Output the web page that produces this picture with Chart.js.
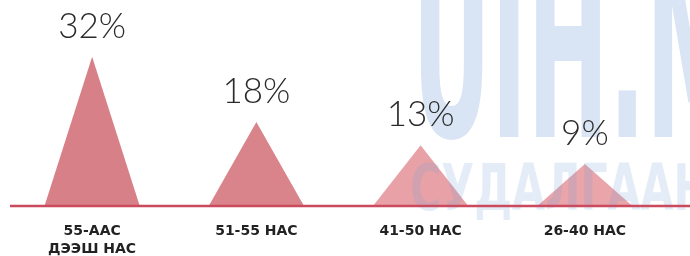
<!DOCTYPE html>
<html>
<head>
<meta charset="utf-8">
<script src="https://cdn.jsdelivr.net/npm/chart.js@4/dist/chart.umd.min.js"></script>
<style>
  html, body { margin: 0; padding: 0; background: #fff; }
  #wrap { width: 690px; height: 256px; position: relative; }
</style>
</head>
<body>
<div id="wrap"><canvas id="ageChart"></canvas></div>
<script>
// age groups and their shares (%)
const ageGroups = [['55-ААС', 'ДЭЭШ НАС'], '51-55 НАС', '41-50 НАС', '26-40 НАС'];
const shares = [32, 18, 13, 9];
const peakColors = ['#d88087', '#d9848a', '#e8a2a7', '#e9a5aa'];

// draw each bar as a triangle peak, then the watermark, baseline and % labels
const peaks = {
  id: 'peaks',
  beforeDatasetsDraw(chart) {
    const ctx = chart.ctx;
    chart.getDatasetMeta(0).data.forEach(bar => {
      const half = bar.width / 2;
      ctx.beginPath();
      ctx.moveTo(bar.x - half, bar.base);
      ctx.lineTo(bar.x, bar.y);
      ctx.lineTo(bar.x + half, bar.base);
      ctx.closePath();
      ctx.fillStyle = bar.options.backgroundColor;
      ctx.fill();
    });
    return false;
  },
  afterDraw(chart) {
    const ctx = chart.ctx;
    const y0 = chart.scales.y.getPixelForValue(0);

    // watermark
    ctx.save();
    ctx.textBaseline = 'alphabetic';
    ctx.textAlign = 'left';
    ctx.save();
    ctx.fillStyle = 'rgba(120,160,215,0.28)';
    ctx.translate(412, 137);
    ctx.scale(0.44, 1);
    ctx.font = 'bold 246px "DejaVu Sans Condensed", "DejaVu Sans"';
    ctx.fillText('UIH.MN', 0, 0);
    ctx.restore();
    ctx.save();
    ctx.fillStyle = 'rgba(120,160,215,0.2)';
    ctx.translate(410, y0 + 4);
    ctx.scale(0.74, 1);
    ctx.font = 'bold 64px "DejaVu Sans Condensed", "DejaVu Sans"';
    ctx.fillText('СУДАЛГААНЫ', 0, 0);
    ctx.restore();
    ctx.restore();

    // baseline
    ctx.save();
    ctx.strokeStyle = '#cc4a5e';
    ctx.lineWidth = 2.5;
    ctx.beginPath();
    ctx.moveTo(chart.chartArea.left, y0);
    ctx.lineTo(chart.width, y0);
    ctx.stroke();
    ctx.restore();

    // value labels
    ctx.save();
    ctx.fillStyle = '#2b2b2b';
    ctx.font = '300 35px Lato, "Open Sans", sans-serif';
    ctx.textAlign = 'center';
    ctx.textBaseline = 'alphabetic';
    chart.getDatasetMeta(0).data.forEach((bar, i) => {
      ctx.fillText(shares[i] + '%', bar.x, bar.y - 19);
    });
    ctx.restore();
  }
};

new Chart(document.getElementById('ageChart'), {
  type: 'bar',
  data: {
    labels: ageGroups,
    datasets: [{
      data: shares,
      backgroundColor: peakColors,
      categoryPercentage: 1,
      barPercentage: 0.58
    }]
  },
  options: {
    responsive: true,
    maintainAspectRatio: false,
    animation: false,
    layout: { padding: { left: 10, right: 23, top: 10, bottom: 0 } },
    plugins: {
      legend: { display: false },
      tooltip: { enabled: false }
    },
    scales: {
      x: {
        afterFit(scale) { scale.height = 50; },
        grid: { display: false, drawTicks: false },
        border: { display: false },
        ticks: {
          color: '#222',
          padding: 16,
          font: { family: '"DejaVu Sans"', size: 14, weight: 'bold', lineHeight: 1.3 }
        }
      },
      y: {
        display: false,
        min: 0,
        max: 42
      }
    }
  },
  plugins: [peaks]
});
</script>
</body>
</html>
